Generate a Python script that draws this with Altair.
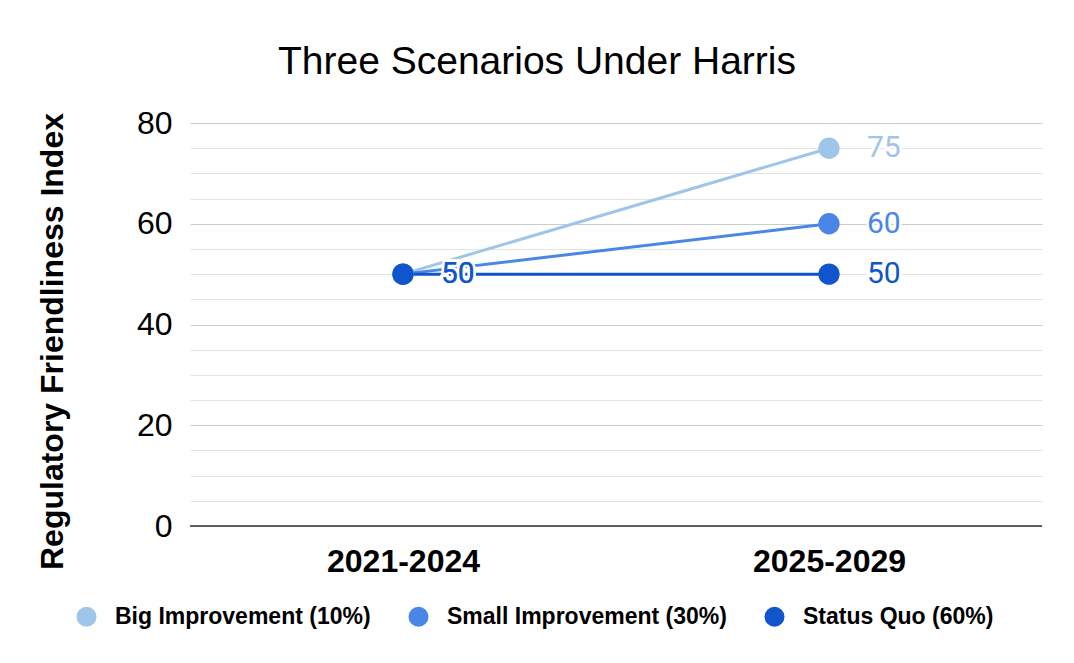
import altair as alt
import pandas as pd

periods = ["2021-2024", "2025-2029"]
series_names = ["Big Improvement (10%)", "Small Improvement (30%)", "Status Quo (60%)"]
big_improvement = [50, 75]
small_improvement = [50, 60]
status_quo = [50, 50]
series_colors = ["#9fc5e8", "#4a86e8", "#1155cc"]
y_grid_values = [0, 5, 10, 15, 20, 25, 30, 35, 40, 45, 50, 55, 60, 65, 70, 75, 80]
baseline_values = [0]

rows = []
for order, (name, vals) in enumerate(zip(series_names, [big_improvement, small_improvement, status_quo])):
    for p, v in zip(periods, vals):
        rows.append({"period": p, "series": name, "value": v, "order": order, "label": str(v)})
df = pd.DataFrame(rows)
base_df = pd.DataFrame({"value": baseline_values})

FONT = "Liberation Sans"

x_enc = alt.X("period:N", sort=periods, title=None,
              scale=alt.Scale(type="point", padding=0.5),
              axis=alt.Axis(labelAngle=0, labelFontSize=32, labelFontWeight="bold", labelFont=FONT,
                            labelColor="#000", ticks=False, domain=False, grid=False, labelPadding=20))
y_enc = alt.Y("value:Q", title="Regulatory Friendliness Index",
              scale=alt.Scale(domain=[0, 80], nice=False),
              axis=alt.Axis(values=y_grid_values,
                            labelExpr="datum.value % 20 === 0 ? datum.label : ''",
                            labelFontSize=32, labelFont=FONT, labelColor="#000", labelPadding=18,
                            ticks=False, domain=False,
                            gridColor={"condition": {"test": "datum.value % 20 === 0", "value": "#cccccc"}, "value": "#e3e3e3"},
                            gridWidth=1,
                            titleFontSize=32, titleFontWeight="bold", titleFont=FONT, titleColor="#000",
                            titleAngle=-90, titleX=-138, titleY=218, titleBaseline="middle", titleAlign="center"))

color_enc = alt.Color("series:N", scale=alt.Scale(domain=series_names, range=series_colors),
                      legend=alt.Legend(title=None, orient="none", legendX=-115, legendY=482,
                                        direction="horizontal", columns=3, symbolType="circle",
                                        symbolSize=400, symbolStrokeWidth=0, symbolOpacity=1,
                                        labelFontSize=23, labelLimit=500,
                                        labelFontWeight="bold", labelFont=FONT, labelColor="#000",
                                        labelOffset=17, columnPadding=36, padding=0))

base = alt.Chart(df)

lines = base.mark_line(strokeWidth=3).encode(
    x=x_enc, y=y_enc, color=color_enc, order="order:Q",
)

points = base.mark_point(filled=True, opacity=1, size=452, shape="circle").encode(
    x=x_enc, y=y_enc, color=color_enc, order="order:Q",
)

halo = base.mark_text(align="left", baseline="middle", dx=38, fontSize=30, font="Roboto",
                      stroke="white", strokeWidth=5, fill="white").encode(
    x=x_enc, y=y_enc, text="label:N",
)

labels = base.mark_text(align="left", baseline="middle", dx=38, fontSize=30, font="Roboto").encode(
    x=x_enc, y=y_enc, text="label:N", color=color_enc,
)

baseline = alt.Chart(base_df).mark_rule(color="#333333", strokeWidth=1.5).encode(
    y=y_enc
)

chart = alt.layer(lines, baseline, points, halo, labels).properties(
    width=852, height=403,
    autosize=alt.AutoSizeParams(type="none"),
    padding={"left": 182, "top": 115, "right": 24, "bottom": 129},
    background="white",
    title=alt.TitleParams("Three Scenarios Under Harris", fontSize=39, font=FONT, fontWeight="normal",
                          color="#000", anchor="middle", dx=-79, offset=25),
).configure_view(stroke=None)

chart.save("out.html", embed_options={"renderer": "svg", "actions": False})
